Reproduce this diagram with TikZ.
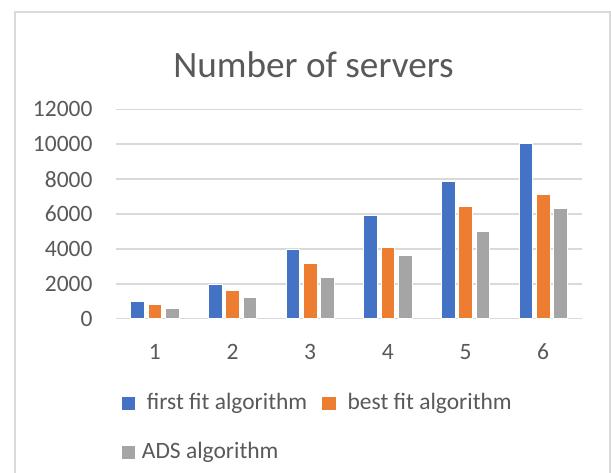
\documentclass[tikz,border=0pt]{standalone}
\usepackage{fontspec}
\setmainfont{Carlito}
\usepackage{xcolor}
\usepackage{tikz}
\usetikzlibrary{positioning}

\definecolor{firstfit}{HTML}{4472C4}
\definecolor{bestfit}{HTML}{ED7D31}
\definecolor{adsalgo}{HTML}{A5A5A5}
\definecolor{labelgray}{HTML}{595959}
\definecolor{rulegray}{HTML}{D9D9D9}

\begin{document}
\begin{tikzpicture}[
  x=0.75pt, y=-0.75pt,
  frame/.style={draw=rulegray, line width=1.1pt},
  gridline/.style={draw=rulegray, line width=1.1pt},
  charttitle/.style={inner sep=0pt, text=labelgray, font=\fontsize{27.9}{32}\selectfont},
  ticklabel/.style={inner sep=0pt, text=labelgray, font=\fontsize{17.6}{20}\selectfont},
  legendtext/.style={inner sep=0pt, anchor=base west, text=labelgray,
                     font=\fontsize{17.6}{20}\selectfont},
  bar/.style={draw=white, line width=0.4pt},
]
  \useasboundingbox (0,0) rectangle (611,473);
  \fill[white] (0,0) rectangle (611,473);

  % chart area border (bottom edge runs off the page)
  \draw[frame] (15,474) -- (15,12) -- (610,12) -- (610,474);

  \node[charttitle, anchor=base] (title) at (313.5,77.2) {Number of servers};

  % value axis: gridlines every 2000
  \def\base{318.7}
  \foreach \k in {0,...,6} {
    \draw[gridline] (116,{\base-34.9*\k}) -- (582,{\base-34.9*\k});
    \pgfmathtruncatemacro{\val}{2000*\k}
    \node[ticklabel, anchor=east] (ylab\k) at (92.7,{\base-34.9*\k}) {\val};
  }

  % category axis
  \foreach \i in {1,...,6}
    \node[ticklabel] (xlab\i) at ({116+77.67*(\i-0.5)},352) {\i};

  % bars, one series at a time
  \foreach \col/\off/\vals in {
      firstfit/-17.3/{1000,1950,4000,5950,7900,10050},
      bestfit/0/{800,1600,3200,4100,6450,7100},
      adsalgo/17.3/{600,1200,2400,3650,5000,6300}} {
    \foreach \v [count=\i] in \vals
      \fill[bar, fill=\col] ({116+77.67*(\i-0.5)+\off-6.85},\base)
        rectangle ++(13.7,{-\v*0.01745});
  }

  % legend
  \fill[firstfit] (121.7,396.7) rectangle (135,410);
  \node[legendtext] (legff) at (146.7,410) {first fit algorithm};
  \fill[bestfit] (322.3,396.7) rectangle (335.6,410);
  \node[legendtext] (legbf) at (347.4,410) {best fit algorithm};
  \fill[adsalgo] (121.7,445.7) rectangle (135,459);
  \node[legendtext] (legads) at (141.7,459) {ADS algorithm};
\end{tikzpicture}
\end{document}
